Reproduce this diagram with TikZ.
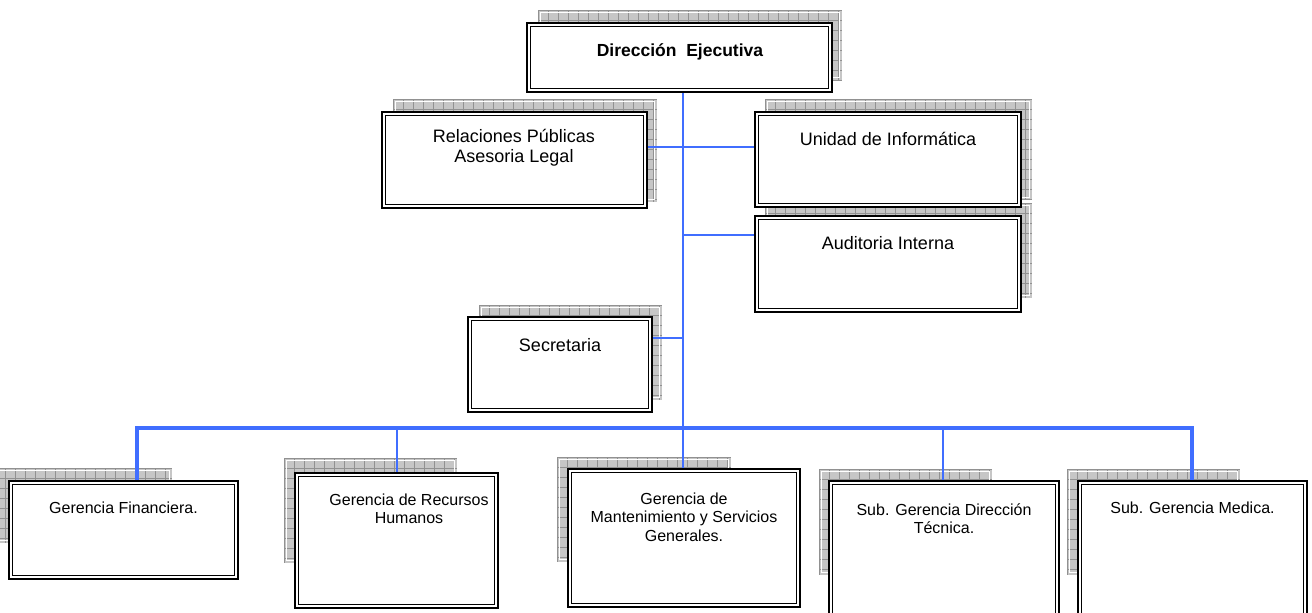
\documentclass[tikz,border=0pt]{standalone}
\usepackage{fontspec}
\setmainfont{Liberation Sans}
\usetikzlibrary{fit}

\definecolor{linkblue}{RGB}{64,110,255}
\definecolor{shadowfill}{RGB}{198,198,198}
\definecolor{shadowgrid}{RGB}{145,145,145}

\tikzset{
  orgbox/.style={draw=black, fill=white, line width=2.6pt, inner sep=0pt},
  innerrule/.style={draw=black, line width=1.3pt},
  toptext/.style={align=center, font=\fontsize{18}{19.5}\selectfont, inner sep=0pt},
  lowtext/.style={align=center, font=\fontsize{16}{18.5}\selectfont, inner sep=0pt},
  link/.style={draw=linkblue, line width=1.6pt},
  buslink/.style={draw=linkblue, line width=4pt},
}

% grey hatched shadow panel behind a box: corners (x1,y1) (x2,y2)
\newcommand\shadowpanel[4]{%
  \fill[shadowfill] (#1,#2) rectangle (#3,#4);
  \begin{scope}
    \clip (#1,#2) rectangle (#3,#4);
    \foreach \gx in {0,10,...,360} \draw[shadowgrid, line width=0.5pt] (#1+\gx,#2) -- (#1+\gx,#4);
    \foreach \gy in {0,10,...,200} \draw[shadowgrid, line width=0.5pt] (#1,#2+\gy) -- (#3,#2+\gy);
  \end{scope}
  \draw[white, line width=0.8pt] (#1+2.5,#2+2.5) rectangle (#3-2.5,#4-2.5);
}

\begin{document}
\begin{tikzpicture}[x=1pt, y=-1pt]
\clip (0,0) rectangle (1312,613);
\fill[white] (0,0) rectangle (1312,613);

% shadows
\shadowpanel{538}{10}{842}{80}
\shadowpanel{393}{99}{657}{202}
\shadowpanel{765}{99}{1032}{200}
\shadowpanel{765}{203}{1032}{298}
\shadowpanel{479}{305}{662}{400}
\shadowpanel{-5}{468}{172}{543}
\shadowpanel{284}{458}{457}{563}
\shadowpanel{557}{457}{731}{562}
\shadowpanel{819}{469}{992}{575}
\shadowpanel{1067}{469}{1240}{575}

% boxes
\node[orgbox, fit={(527,23)(832,92)}] (dir) {};
\node[orgbox, fit={(382,112)(647,208)}] (rel) {};
\node[orgbox, fit={(755,112)(1021,207)}] (uni) {};
\node[orgbox, fit={(755,216)(1021,312)}] (aud) {};
\node[orgbox, fit={(468,317)(652,412)}] (sec) {};
\node[orgbox, fit={(9,481)(238,579)}] (fin) {};
\node[orgbox, fit={(295,473)(498,608)}] (rrhh) {};
\node[orgbox, fit={(568,469)(800,607)}] (mant) {};
\node[orgbox, fit={(829,481)(1059,640)}] (tec) {};
\node[orgbox, fit={(1078,481)(1307,640)}] (med) {};

% inner rule of the double frame
\foreach \n in {dir,rel,uni,aud,sec,fin,rrhh,mant,tec,med}
  \draw[innerrule] ([shift={(4.5,4.5)}]\n.north west) rectangle ([shift={(-4.5,-4.5)}]\n.south east);

% labels
\node[toptext, font=\fontsize{17.5}{19.5}\selectfont\bfseries] (tdir) at (680,52) {Dirección\ \ Ejecutiva};
\node[toptext] (trel) at (514,147.5) {Relaciones Públicas\\Asesoria Legal};
\node[toptext] (tuni) at (888,139) {Unidad de Informática};
\node[toptext] (taud) at (888,243) {Auditoria Interna};
\node[toptext] (tsec) at (560,345) {Secretaria};
\node[lowtext] (tfin) at (123.5,508) {Gerencia Financiera.};
\node[lowtext] (trrhh) at (409,509) {Gerencia de Recursos\\Humanos};
\node[lowtext] (tmant) at (684,517) {Gerencia de\\Mantenimiento y Servicios\\Generales.};
\node[lowtext] (ttec) at (944,518.5) {Sub. Gerencia Dirección\\Técnica.};
\node[lowtext] (tmed) at (1192.5,508) {Sub. Gerencia Medica.};

% connector points
\coordinate (jstaff) at (683,147);
\coordinate (jaud) at (683,235);
\coordinate (jsec) at (683,338);
\coordinate (bfin) at (137,428);
\coordinate (brrhh) at (397,428);
\coordinate (bmant) at (683,428);
\coordinate (btec) at (943,428);
\coordinate (bmed) at (1192,428);

% connectors
\draw[link] (dir.south -| bmant) -- (mant.north -| bmant);
\draw[link] (rel.east |- jstaff) -- (uni.west |- jstaff);
\draw[link] (jaud) -- (aud.west |- jaud);
\draw[link] (sec.east |- jsec) -- (jsec);
\draw[buslink, line cap=rect] (bfin) -- (bmed);
\draw[buslink] (bfin) -- (fin.north -| bfin);
\draw[link] (brrhh) -- (rrhh.north -| brrhh);
\draw[link] (btec) -- (tec.north -| btec);
\draw[buslink] (bmed) -- (med.north -| bmed);
\end{tikzpicture}
\end{document}
